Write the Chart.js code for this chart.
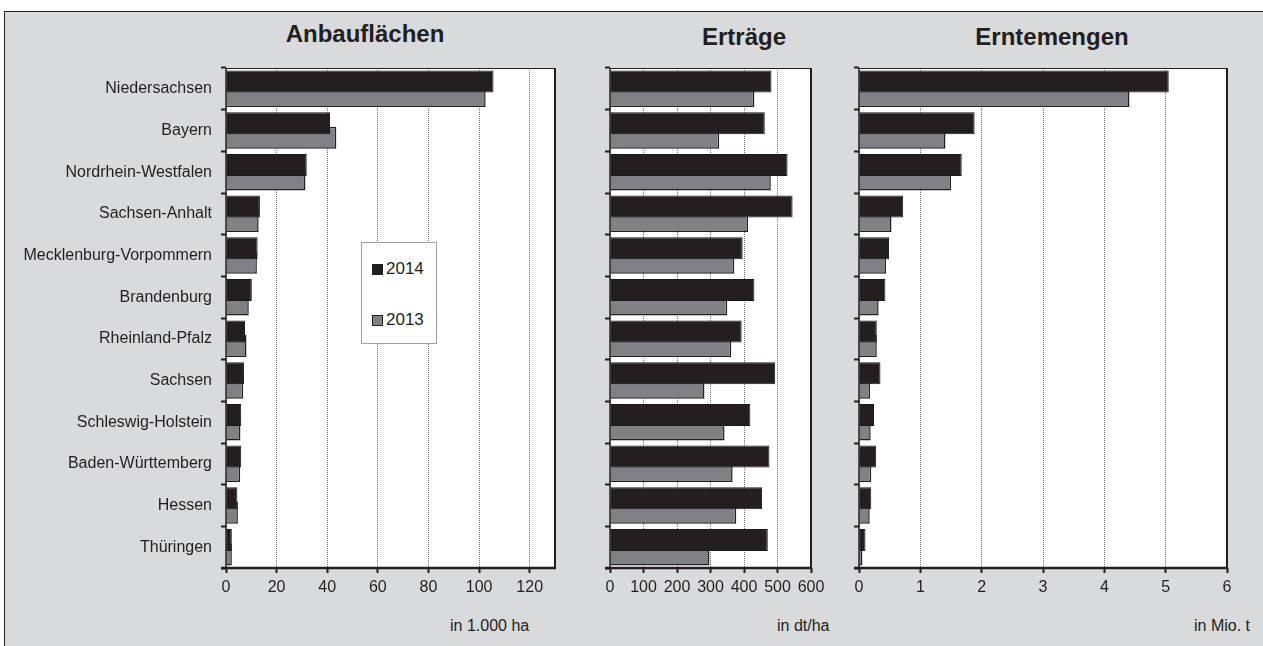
<!DOCTYPE html>
<html lang="de">
<head>
<meta charset="UTF-8">
<title>Zuckerrüben 2014 und 2013</title>
<script src="https://cdn.jsdelivr.net/npm/chart.js"></script>
<style>
    body { margin: 0; background: #fff; overflow: hidden; color: #231f20;
           font-family: 'Liberation Sans', Arial, sans-serif; }
    #rahmen { position: absolute; left: 4px; top: 11px; width: 1280px; height: 660px;
              background: #d9dadb; border-top: 1.5px solid #231f20; border-left: 1.5px solid #231f20; }
    canvas { position: absolute; }
    .titel { position: absolute; width: 240px; text-align: center; font-weight: bold;
             font-size: 24px; line-height: 24px; }
    .einheit { position: absolute; top: 618px; font-size: 16px; line-height: 16px; white-space: nowrap; }
    #legende { position: absolute; left: 361px; top: 242px; width: 76px; height: 102px; box-sizing: border-box;
               background: #fff; border: 1px solid #a0a0a0; }
    #legende .q { position: absolute; left: 10px; width: 11px; height: 11px; box-sizing: border-box; }
    #legende .t { position: absolute; left: 24px; font-size: 17px; line-height: 17px; }
</style>
</head>
<body>
<div id="rahmen"></div>

<div class="titel" style="left:245px; top:22px;">Anbauflächen</div>
<div class="titel" style="left:624px; top:25px;">Erträge</div>
<div class="titel" style="left:932px; top:25px;">Erntemengen</div>

<canvas id="flaeche" width="575" height="550" style="left:0px; top:58px;"></canvas>
<canvas id="ertrag" width="245" height="550" style="left:585px; top:58px;"></canvas>
<canvas id="ernte" width="420" height="550" style="left:830px; top:58px;"></canvas>

<div class="einheit" style="left:450px;">in 1.000 ha</div>
<div class="einheit" style="left:777px;">in dt/ha</div>
<div class="einheit" style="left:1194px;">in Mio. t</div>

<div id="legende">
    <div class="q" style="top:21px; background:#231f20;"></div>
    <div class="t" style="top:17px;">2014</div>
    <div class="q" style="top:72px; background:#808184; border:1.5px solid #231f20;"></div>
    <div class="t" style="top:68px;">2013</div>
</div>

<script>
    // Bundesländer (von oben nach unten)
    const laender = ['Niedersachsen', 'Bayern', 'Nordrhein-Westfalen', 'Sachsen-Anhalt',
        'Mecklenburg-Vorpommern', 'Brandenburg', 'Rheinland-Pfalz', 'Sachsen',
        'Schleswig-Holstein', 'Baden-Württemberg', 'Hessen', 'Thüringen'];
    const jahre = ['2014', '2013'];

    // Anbauflächen in 1.000 ha
    const flaeche2014 = [105.7, 41.1, 31.9, 13.4, 12.5, 10.2, 7.5, 7.1, 6.0, 6.0, 4.5, 2.3];
    const flaeche2013 = [102.6, 43.6, 31.4, 12.9, 12.2, 9.0, 8.1, 6.8, 5.7, 5.6, 4.7, 2.3];

    // Erträge in dt/ha
    const ertrag2014 = [482, 462, 530, 545, 396, 431, 393, 493, 419, 476, 454, 471];
    const ertrag2013 = [431, 326, 480, 412, 371, 350, 362, 282, 342, 366, 377, 297];

    // Erntemengen in Mio. t
    const ernte2014 = [5.05, 1.885, 1.675, 0.72, 0.49, 0.43, 0.29, 0.35, 0.245, 0.28, 0.20, 0.105];
    const ernte2013 = [4.41, 1.41, 1.50, 0.53, 0.44, 0.32, 0.29, 0.18, 0.19, 0.20, 0.175, 0.056];

    Chart.defaults.font.family = "'Liberation Sans', Arial, sans-serif";
    Chart.defaults.color = '#231f20';

    // weisser Plotbereich und schwarzer Rahmen
    const plotRahmen = {
        id: 'plotRahmen',
        beforeDraw(chart) {
            const a = chart.chartArea, ctx = chart.ctx;
            ctx.save();
            ctx.fillStyle = '#fff';
            ctx.fillRect(a.left, a.top, a.right - a.left, a.bottom - a.top);
            ctx.restore();
        },
        afterDatasetsDraw(chart) {
            const a = chart.chartArea, ctx = chart.ctx;
            ctx.save();
            ctx.strokeStyle = '#231f20';
            ctx.lineWidth = 1;
            ctx.beginPath(); ctx.moveTo(a.left, a.top + 0.5); ctx.lineTo(a.right, a.top + 0.5); ctx.stroke();
            ctx.lineWidth = 1.5;
            ctx.beginPath(); ctx.moveTo(a.left, a.top); ctx.lineTo(a.left, a.bottom); ctx.stroke();
            ctx.lineWidth = 2;
            ctx.beginPath(); ctx.moveTo(a.right, a.top); ctx.lineTo(a.right, a.bottom + 1); ctx.stroke();
            ctx.lineWidth = 2.5;
            ctx.beginPath(); ctx.moveTo(a.left - 5, a.bottom); ctx.lineTo(a.right + 1, a.bottom); ctx.stroke();
            ctx.restore();
        }
    };

    function zeichne(id, werte14, werte13, max, schritt, yBreite, rechts, mitNamen) {
        new Chart(document.getElementById(id), {
            type: 'bar',
            data: {
                labels: laender,
                datasets: [
                    { label: jahre[0], data: werte14, backgroundColor: '#231f20',
                      borderColor: '#1a1718', borderWidth: 1 },
                    { label: jahre[1], data: werte13, backgroundColor: '#808184',
                      borderColor: '#231f20', borderWidth: 1.5 }
                ]
            },
            options: {
                indexAxis: 'y',
                responsive: false,
                devicePixelRatio: 1,
                animation: false,
                // Balken ueberlappen sich wie im Original
                categoryPercentage: 0.696,
                barPercentage: 1.52,
                layout: { padding: { top: 10, right: rechts, bottom: 0, left: 0 } },
                plugins: { legend: { display: false }, tooltip: { enabled: false } },
                scales: {
                    y: {
                        afterFit: s => { s.width = yBreite; s.paddingTop = 0; s.paddingBottom = 0; },
                        border: { display: false },
                        grid: { display: true, offset: true, drawOnChartArea: false, drawTicks: true,
                                tickLength: 5, tickColor: '#231f20', tickWidth: 2 },
                        ticks: { display: mitNamen, padding: 9, font: { size: 16 }, color: '#231f20' }
                    },
                    x: {
                        min: 0, max: max,
                        bounds: 'data',
                        afterFit: s => { s.height = 40; s.paddingLeft = 0; s.paddingRight = 0; },
                        // nur ganze Schritte beschriften (130 bei den Flaechen faellt weg)
                        afterBuildTicks: s => { s.ticks = s.ticks.filter(t => Math.abs(t.value / schritt - Math.round(t.value / schritt)) < 1e-6); },
                        border: { display: false, dash: [1, 1] },
                        grid: { color: '#6e6e6e', lineWidth: 1, tickLength: 5, tickColor: '#231f20',
                                tickWidth: 2, tickBorderDash: [] },
                        ticks: { stepSize: schritt, includeBounds: false, autoSkip: false, maxRotation: 0,
                                 padding: 5, font: { size: 16 }, color: '#231f20' }
                    }
                }
            },
            plugins: [plotRahmen]
        });
    }

    zeichne('flaeche', flaeche2014, flaeche2013, 130, 20, 226, 20, true);
    zeichne('ertrag', ertrag2014, ertrag2013, 600, 100, 25, 19, false);
    zeichne('ernte', ernte2014, ernte2013, 6, 1, 29, 23, false);
</script>
</body>
</html>
